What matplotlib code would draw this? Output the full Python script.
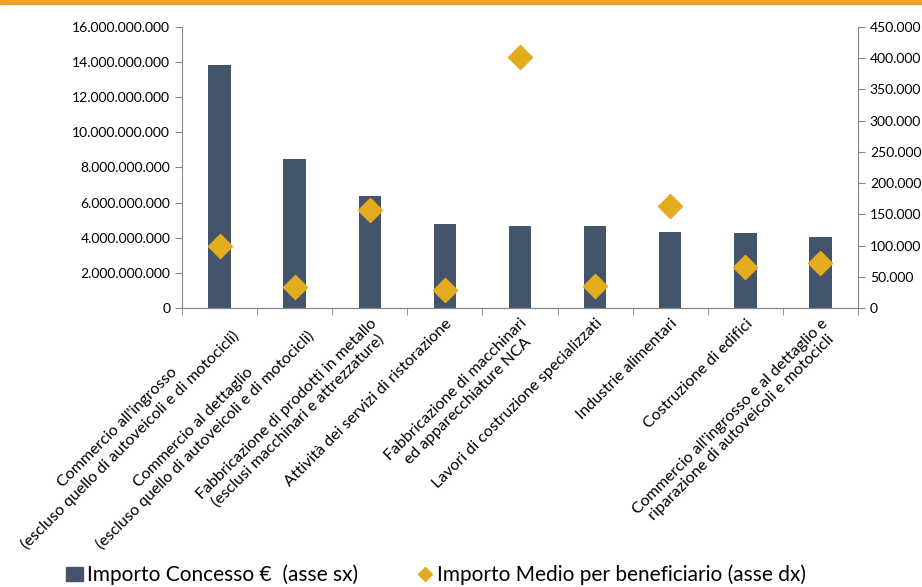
import numpy as np
from matplotlib import pyplot as plt
from matplotlib.ticker import FuncFormatter
from matplotlib.lines import Line2D
from matplotlib.patches import Patch

plt.rcParams['font.family'] = ['Lato', 'DejaVu Sans']

categories = [
    "Commercio all'ingrosso\n(escluso quello di autoveicoli e di motocicli)",
    "Commercio al dettaglio\n(escluso quello di autoveicoli e di motocicli)",
    "Fabbricazione di prodotti in metallo\n(esclusi macchinari e attrezzature)",
    "Attività dei servizi di ristorazione",
    "Fabbricazione di macchinari\ned apparecchiature NCA",
    "Lavori di costruzione specializzati",
    "Industrie alimentari",
    "Costruzione di edifici",
    "Commercio all'ingrosso e al dettaglio e\nriparazione di autoveicoli e motocicli",
]
importo_concesso = [13.85e9, 8.48e9, 6.38e9, 4.78e9, 4.68e9, 4.67e9, 4.33e9, 4.27e9, 4.04e9]
importo_medio = [100000, 33500, 157000, 29000, 402000, 35000, 163000, 65500, 72000]

bar_color = '#44546A'
dia_color = '#E2AC1E'
axis_color = '#868686'

def dotted(v, pos):
    return f"{int(round(v)):,}".replace(',', '.')

fig = plt.figure(figsize=(9.22, 5.87), dpi=100)
ax = fig.add_axes([182/922, 1 - 308/587, 676/922, 281/587])
ax2 = ax.twinx()

x = np.arange(len(categories))
ax.bar(x, importo_concesso, width=0.3, color=bar_color, zorder=2)
ax2.scatter(x, importo_medio, marker='D', s=150, color=dia_color, zorder=3)

ax.set_xlim(-0.5, len(categories) - 0.5)
ax.set_ylim(0, 16e9)
ax.set_yticks(np.arange(0, 16e9 + 1, 2e9))
ax2.set_ylim(0, 450000)
ax2.set_yticks(np.arange(0, 450001, 50000))
ax.yaxis.set_major_formatter(FuncFormatter(dotted))
ax2.yaxis.set_major_formatter(FuncFormatter(dotted))

for a in (ax, ax2):
    a.spines['top'].set_visible(False)
    for s in ('left', 'right', 'bottom'):
        a.spines[s].set_color(axis_color)
    a.tick_params(axis='y', colors=axis_color, labelcolor='black', labelsize=10, length=5)
ax.spines['right'].set_visible(False)
ax2.spines['left'].set_visible(False)

ax.set_xticks(x)
ax.set_xticklabels(categories, rotation=45, ha='right', rotation_mode='anchor',
                   multialignment='center', fontsize=11.5)
ax.tick_params(axis='x', length=0, pad=6)
ax.set_xticks(np.arange(-0.5, len(categories), 1), minor=True)
ax.tick_params(axis='x', which='minor', length=5, color=axis_color)

# orange band on top
fig.add_artist(plt.Rectangle((0, 1 - 4/587), 1, 4/587, transform=fig.transFigure,
                             color='#F0A030', clip_on=False))

handles = [Patch(color=bar_color, label='Importo Concesso €  (asse sx)'),
           Line2D([], [], marker='D', color=dia_color, linestyle='none', markersize=7,
                  label='Importo Medio per beneficiario (asse dx)')]
fig.legend(handles=handles, loc='center', bbox_to_anchor=(0.473, 1 - 575/587), ncol=2,
           frameon=False, fontsize=15, handlelength=0.8, handletextpad=0.2, columnspacing=2.8)

plt.savefig('out.png', dpi=100)
